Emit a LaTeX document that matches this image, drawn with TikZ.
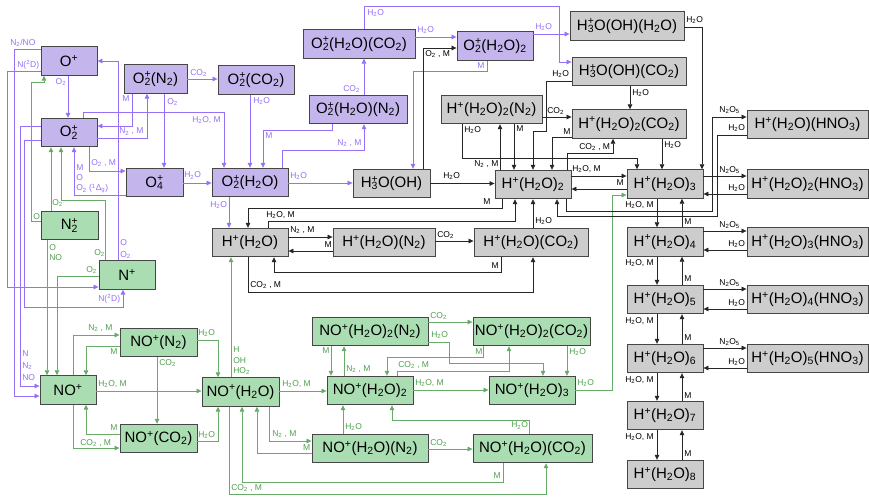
\documentclass[tikz,border=0pt]{standalone}
\usepackage{fontspec}
\setmainfont{Liberation Sans}
\usetikzlibrary{arrows.meta}
\definecolor{pfill}{RGB}{196,182,236}
\definecolor{pline}{RGB}{150,112,248}
\definecolor{gfill}{RGB}{170,222,178}
\definecolor{gline}{RGB}{104,170,104}
\definecolor{gtext}{RGB}{80,160,80}
\definecolor{kfill}{RGB}{205,205,205}
\definecolor{bord}{RGB}{70,70,70}
\newcommand\sbs[1]{\textsubscript{#1}}
\newcommand\spp[1]{\textsuperscript{#1}}
\newcommand\stk[2]{\rlap{\textsuperscript{#1}}\textsubscript{#2}}
\begin{document}
\begin{tikzpicture}[x=1pt,y=-1pt,
 box/.style={draw=bord,line width=0.9pt,minimum height=28.5pt,inner sep=0pt,font=\fontsize{15}{16}\selectfont},
 pbox/.style={box,fill=pfill}, gbox/.style={box,fill=kfill}, nbox/.style={box,fill=gfill},
 con/.style={line width=0.7pt,-{Triangle[length=5pt,width=4.5pt]}},
 pl/.style={con,draw=pline}, gl/.style={con,draw=gline}, bl/.style={con,draw=black!85},
 lab/.style={inner sep=0pt,anchor=west,font=\fontsize{8.5}{9}\selectfont},
 pt/.style={lab,text=pline}, gt/.style={lab,text=gtext}, bt/.style={lab,text=black},
]
\useasboundingbox (0,0) rectangle (869,496);
\fill[white] (0,0) rectangle (869,496);
% purple boxes
\node[pbox,minimum width=56pt] (Op) at (69,61) {O\spp{+}};
\node[pbox,minimum width=56pt] (O2p) at (69,132.5) {O\stk{+}{2}};
\node[pbox,minimum width=63pt] (O2N2) at (155.5,79) {O\stk{+}{2}(N\sbs{2})};
\node[pbox,minimum width=76pt] (O2CO2) at (256,80) {O\stk{+}{2}(CO\sbs{2})};
\node[pbox,minimum width=57pt] (O4) at (154.5,182.5) {O\stk{+}{4}};
\node[pbox,minimum width=76pt] (O2W) at (250,182.5) {O\stk{+}{2}(H\sbs{2}O)};
\node[pbox,minimum width=112pt] (O2WC) at (359,44) {O\stk{+}{2}(H\sbs{2}O)(CO\sbs{2})};
\node[pbox,minimum width=98pt] (O2WN) at (358,109.5) {O\stk{+}{2}(H\sbs{2}O)(N\sbs{2})};
\node[pbox,minimum width=76pt] (O2WW) at (495,46) {O\stk{+}{2}(H\sbs{2}O)\sbs{2}};
% gray boxes
\node[gbox,minimum width=114pt] (HOW) at (627,26) {H\stk{+}{3}O(OH)(H\sbs{2}O)};
\node[gbox,minimum width=114pt] (HOC) at (629,71.5) {H\stk{+}{3}O(OH)(CO\sbs{2})};
\node[gbox,minimum width=101pt] (H2N) at (491.5,109.5) {H\spp{+}(H\sbs{2}O)\sbs{2}(N\sbs{2})};
\node[gbox,minimum width=114pt] (H2C) at (629,124) {H\spp{+}(H\sbs{2}O)\sbs{2}(CO\sbs{2})};
\node[gbox,minimum width=77pt] (HO) at (391.5,183.5) {H\stk{+}{3}O(OH)};
\node[gbox,minimum width=76pt] (H2) at (533,184.5) {H\spp{+}(H\sbs{2}O)\sbs{2}};
\node[gbox,minimum width=76pt] (H1) at (250,242.5) {H\spp{+}(H\sbs{2}O)};
\node[gbox,minimum width=102pt] (H1N) at (384,242.5) {H\spp{+}(H\sbs{2}O)(N\sbs{2})};
\node[gbox,minimum width=114pt] (H1C) at (531,242.5) {H\spp{+}(H\sbs{2}O)(CO\sbs{2})};
\node[gbox,minimum width=76pt] (H3) at (665,184) {H\spp{+}(H\sbs{2}O)\sbs{3}};
\node[gbox,minimum width=76pt] (H4) at (665,242) {H\spp{+}(H\sbs{2}O)\sbs{4}};
\node[gbox,minimum width=76pt] (H5) at (665,299.5) {H\spp{+}(H\sbs{2}O)\sbs{5}};
\node[gbox,minimum width=76pt] (H6) at (665,358.5) {H\spp{+}(H\sbs{2}O)\sbs{6}};
\node[gbox,minimum width=76pt] (H7) at (665,415.5) {H\spp{+}(H\sbs{2}O)\sbs{7}};
\node[gbox,minimum width=76pt] (H8) at (665,474.5) {H\spp{+}(H\sbs{2}O)\sbs{8}};
\node[gbox,minimum width=121pt] (HN1) at (807.5,124.5) {H\spp{+}(H\sbs{2}O)(HNO\sbs{3})};
\node[gbox,minimum width=121pt] (HN2) at (807.5,184) {H\spp{+}(H\sbs{2}O)\sbs{2}(HNO\sbs{3})};
\node[gbox,minimum width=121pt] (HN3) at (807.5,242) {H\spp{+}(H\sbs{2}O)\sbs{3}(HNO\sbs{3})};
\node[gbox,minimum width=121pt] (HN4) at (807.5,299.5) {H\spp{+}(H\sbs{2}O)\sbs{4}(HNO\sbs{3})};
\node[gbox,minimum width=121pt] (HN5) at (807.5,358.5) {H\spp{+}(H\sbs{2}O)\sbs{5}(HNO\sbs{3})};
% green boxes
\node[nbox,minimum width=57pt] (N2p) at (69.5,225.5) {N\stk{+}{2}};
\node[nbox,minimum width=56pt] (Np) at (127,275) {N\spp{+}};
\node[nbox,minimum width=56pt] (NO) at (68,390) {NO\spp{+}};
\node[nbox,minimum width=77pt] (NON) at (158.5,342.5) {NO\spp{+}(N\sbs{2})};
\node[nbox,minimum width=77pt] (NOC) at (158.5,438.5) {NO\spp{+}(CO\sbs{2})};
\node[nbox,minimum width=77pt] (NO1) at (240.5,392) {NO\spp{+}(H\sbs{2}O)};
\node[nbox,minimum width=116pt] (NO2N) at (370,331.5) {NO\spp{+}(H\sbs{2}O)\sbs{2}(N\sbs{2})};
\node[nbox,minimum width=117pt] (NO2C) at (531.5,331.5) {NO\spp{+}(H\sbs{2}O)\sbs{2}(CO\sbs{2})};
\node[nbox,minimum width=86pt] (NO2) at (370,390.5) {NO\spp{+}(H\sbs{2}O)\sbs{2}};
\node[nbox,minimum width=86pt] (NO3) at (532,390.5) {NO\spp{+}(H\sbs{2}O)\sbs{3}};
\node[nbox,minimum width=116pt] (NO1N) at (370,448.5) {NO\spp{+}(H\sbs{2}O)(N\sbs{2})};
\node[nbox,minimum width=119pt] (NO1C) at (532.5,448.5) {NO\spp{+}(H\sbs{2}O)(CO\sbs{2})};
% purple connectors
\draw[pl] (Op.south-|68,0) -- (O2p.north-|68,0) node[pt,anchor=east] at (66.5,82) {O\sbs{2}};
\draw[pl] (Op.west|-0,49) -- (14,49) -- (14,396) -- (NO.west|-0,396) node[pt] at (10,43) {N\sbs{2}/NO};
\draw[pl] (Op.west|-0,71) -- (7,71) -- (7,287) -- (Np.west|-0,287) node[pt] at (17,65) {N(\spp{2}D)};
\draw[pl] (Np.north-|118,0) -- (118,61) -- (Op.east|-0,61) node[pt] at (120,243) {O} node[pt] at (120,255) {O\sbs{2}};
\draw[pl] (O2p.west|-0,126) -- (20,126) -- (20,386) -- (NO.west|-0,386) node[pt] at (22,354) {N} node[pt] at (22,366) {N\sbs{2}} node[pt] at (22,378) {NO};
\draw[pl] (O2p.west|-0,140) -- (24,140) -- (24,307) -- (123,307) -- (Np.south-|123,0) node[pt] at (98,299) {N(\spp{2}D)};
\draw[pl] (O2p.east|-0,138) -- (147,138) -- (O2N2.south-|147,0) node[pt] at (119,131.5) {N\sbs{2} , M};
\draw[pl] (O2N2.south-|132,0) -- (132,126) -- (O2p.east|-0,126) node[pt] at (122,99) {M};
\draw[pl] (O2N2.south-|164,0) -- (O4.north-|164,0) node[pt] at (167,102) {O\sbs{2}};
\draw[pl] (O2N2.east|-0,79) -- (O2CO2.west|-0,79) node[pt] at (190,73) {CO\sbs{2}};
\draw[pl] (O2p.south-|89,0) -- (89,171) -- (O4.west|-0,171) node[pt] at (91,163) {O\sbs{2} , M};
\draw[pl] (O4.west|-0,195) -- (74,195) -- (O2p.south-|74,0) node[pt] at (76,168) {M} node[pt] at (76,178) {O} node[pt] at (76,188.5) {O\sbs{2} (\spp{1}Δ\sbs{g})};
\draw[pl] (O4.east|-0,183) -- (O2W.west|-0,183) node[pt] at (184,175.5) {H\sbs{2}O};
\draw[pl] (O2p.north-|83,0) -- (83,112) -- (224,112) -- (O2W.north-|224,0) node[pt] at (192,120) {H\sbs{2}O, M};
\draw[pl] (O2CO2.south-|250,0) -- (O2W.north-|250,0) node[pt] at (253,101) {H\sbs{2}O};
\draw[pl] (O2WN.south-|332,0) -- (332,130) -- (263,130) -- (O2W.north-|263,0) node[pt] at (265,136) {M};
\draw[pl] (O2W.north-|282,0) -- (282,150) -- (364,150) -- (O2WN.south-|364,0) node[pt] at (337,143) {N\sbs{2} , M};
\draw[pl] (O2WN.north-|364,0) -- (O2WC.south-|364,0) node[pt] at (343,89) {CO\sbs{2}};
\draw[pl] (O2WC.east|-0,37) -- (O2WW.west|-0,37) node[pt] at (417,30) {H\sbs{2}O};
\draw[pl] (O2WC.north-|364,0) -- (364,6) -- (559,6) -- (559,62) -- (HOC.west|-0,62) node[pt] at (367,13) {H\sbs{2}O};
\draw[pl] (O2WW.east|-0,34) -- (HOW.west|-0,34) node[pt] at (535,27) {H\sbs{2}O};
\draw[pl] (O2WW.south-|487,0) -- (487,71) -- (413,71) -- (HO.north-|413,0) node[pt] at (477,66) {M};
\draw[pl] (O2W.east|-0,183) -- (HO.west|-0,183) node[pt] at (290,176) {H\sbs{2}O};
\draw[pl] (O2W.south-|229,0) -- (H1.north-|229,0) node[pt] at (210,205) {H\sbs{2}O};
% green connectors
\draw[gl] (N2p.north-|51,0) -- (O2p.south-|51,0) node[gt] at (52,203) {O\sbs{2}};
\draw[gl] (Np.north-|105,0) -- (105,200) -- (61,200) -- (O2p.south-|61,0) node[gt] at (94,253) {O\sbs{2}};
\draw[gl] (N2p.west|-0,221) -- (31,221) -- (31,82) -- (44,82) -- (Op.south-|44,0) node[gt] at (33,216.5) {O};
\draw[gl] (N2p.south-|47,0) -- (NO.north-|47,0) node[gt] at (49,248) {O} node[gt] at (49,258) {NO};
\draw[gl] (Np.west|-0,276) -- (57,276) -- (NO.north-|57,0) node[gt] at (86,270) {O\sbs{2}};
\draw[gl] (NO.north-|73,0) -- (73,335) -- (NON.west|-0,335) node[gt] at (88,328) {N\sbs{2} , M};
\draw[gl] (NON.west|-0,346) -- (86,346) -- (NO.north-|86,0) node[gt] at (110,352) {M};
\draw[gl] (NON.south-|157,0) -- (NOC.north-|157,0) node[gt] at (159,363) {CO\sbs{2}};
\draw[gl] (NON.east|-0,340) -- (218,340) -- (NO1.north-|218,0) node[gt] at (198,333) {H\sbs{2}O};
\draw[gl] (NO.east|-0,391) -- (NO1.west|-0,391) node[gt] at (98,384) {H\sbs{2}O, M};
\draw[gl] (NO.south-|73,0) -- (73,448) -- (NOC.west|-0,448) node[gt] at (80,443) {CO\sbs{2} , M};
\draw[gl] (NOC.west|-0,434) -- (86,434) -- (NO.south-|86,0) node[gt] at (110,428) {M};
\draw[gl] (NOC.east|-0,441) -- (218,441) -- (NO1.south-|218,0) node[gt] at (198,435) {H\sbs{2}O};
\draw[gl] (NO1.north-|231,0) -- (H1.south-|231,0) node[gt] at (233,350) {H} node[gt] at (233,361) {OH} node[gt] at (233,371) {HO\sbs{2}};
\draw[gl] (NO1.south-|269,0) -- (269,441) -- (NO1N.west|-0,441) node[gt] at (272,434) {N\sbs{2} , M};
\draw[gl] (NO1N.west|-0,453) -- (257,453) -- (NO1.south-|257,0) node[gt,anchor=east] at (310.5,447.5) {M};
\draw[gl] (NO1.south-|229,0) -- (229,494) -- (546,494) -- (NO1C.south-|546,0) node[gt] at (231,488) {CO\sbs{2} , M};
\draw[gl] (NO1C.south-|503,0) -- (503,482) -- (242,482) -- (NO1.south-|242,0) node[gt,anchor=east] at (501,476) {M};
\draw[gl] (NO1.east|-0,391) -- (NO2.west|-0,391) node[gt] at (282,384) {H\sbs{2}O, M};
\draw[gl] (NO1N.north-|343,0) -- (NO2.south-|343,0) node[gt] at (345,427) {H\sbs{2}O};
\draw[gl] (NO1N.east|-0,449) -- (NO1C.west|-0,449) node[gt] at (430,443) {CO\sbs{2}};
\draw[gl] (NO1C.north-|529,0) -- (529,420) -- (392,420) -- (NO2.south-|392,0) node[gt] at (511,425.5) {H\sbs{2}O};
\draw[gl] (NO2N.south-|331,0) -- (NO2.north-|331,0) node[gt] at (322,351) {M};
\draw[gl] (NO2.north-|344,0) -- (NO2N.south-|344,0) node[gt] at (346,369) {N\sbs{2} , M};
\draw[gl] (NO2N.east|-0,322) -- (NO2C.west|-0,322) node[gt] at (430,316) {CO\sbs{2}};
\draw[gl] (NO2N.east|-0,342) -- (449,342) -- (449,363) -- (543,363) -- (NO3.north-|543,0) node[gt] at (431,335) {H\sbs{2}O};
\draw[gl] (NO2C.south-|483,0) -- (483,357) -- (387,357) -- (NO2.north-|387,0) node[gt] at (475,351.5) {M};
\draw[gl] (NO2.north-|397,0) -- (397,371) -- (509,371) -- (NO2C.south-|509,0) node[gt] at (398,365) {CO\sbs{2} , M};
\draw[gl] (NO2C.south-|567,0) -- (NO3.north-|567,0) node[gt] at (569,352) {H\sbs{2}O};
\draw[gl] (NO2.east|-0,390) -- (NO3.west|-0,390) node[gt] at (415,383) {H\sbs{2}O, M};
\draw[gl] (NO3.east|-0,390) -- (612,390) -- (612,195) -- (H3.west|-0,195) node[gt] at (577,383) {H\sbs{2}O};
% black connectors
\draw[bl] (HO.east|-0,183.5) -- (H2.west|-0,183.5) node[bt] at (443,176) {H\sbs{2}O};
\draw[bl] (HO.north-|423,0) -- (423,48) -- (O2WW.west|-0,48) node[bt] at (425,54) {O\sbs{2} , M};
\draw[bl] (HOW.east|-0,27) -- (702,27) -- (H3.north-|702,0) node[bt] at (686,20) {H\sbs{2}O};
\draw[bl] (HOC.south-|630,0) -- (H2C.north-|630,0) node[bt] at (632,93) {H\sbs{2}O};
\draw[bl] (HOC.west|-0,81) -- (546,81) -- (546,131) -- (533,131) -- (H2.north-|533,0) node[bt] at (552,74) {H\sbs{2}O};
\draw[bl] (H2N.south-|514,0) -- (H2.north-|514,0) node[bt] at (516,129) {M};
\draw[bl] (H2.north-|500,0) -- (H2N.south-|500,0) node[bt] at (474,164) {N\sbs{2} , M};
\draw[bl] (H2N.south-|462,0) -- (462,158) -- (637,158) -- (H3.north-|637,0) node[bt] at (464,130) {H\sbs{2}O};
\draw[bl] (H2N.east|-0,117) -- (H2C.west|-0,117) node[bt] at (547,111) {CO\sbs{2}};
\draw[bl] (H2C.west|-0,137) -- (552,137) -- (H2.north-|552,0) node[bt] at (563,132) {M};
\draw[bl] (H2.north-|567,0) -- (567,153) -- (613,153) -- (H2C.south-|613,0) node[bt] at (579,147) {CO\sbs{2} , M};
\draw[bl] (H2C.south-|662,0) -- (H3.north-|662,0) node[bt] at (664,145) {H\sbs{2}O};
\draw[bl] (H2.east|-0,176) -- (H3.west|-0,176) node[bt] at (572,169) {H\sbs{2}O, M};
\draw[bl] (H3.west|-0,189) -- (H2.east|-0,189) node[bt,anchor=east] at (624,183) {M};
\draw[bl] (H2.south-|502,0) -- (502,208) -- (248,208) -- (H1.north-|248,0) node[bt] at (483,202) {M};
\draw[bl] (H1.north-|268,0) -- (268,221) -- (515,221) -- (H2.south-|515,0) node[bt] at (266,215) {H\sbs{2}O, M};
\draw[bl] (H1.east|-0,237) -- (H1N.west|-0,237) node[bt] at (290,230) {N\sbs{2} , M};
\draw[bl] (H1N.west|-0,251) -- (H1.east|-0,251) node[bt,anchor=east] at (332,245) {M};
\draw[bl] (H1N.east|-0,241) -- (H1C.west|-0,241) node[bt] at (437,235) {CO\sbs{2}};
\draw[bl] (H1C.north-|533,0) -- (H2.south-|533,0) node[bt] at (535,221) {H\sbs{2}O};
\draw[bl] (H1C.south-|501,0) -- (501,272) -- (274,272) -- (H1.south-|274,0) node[bt,anchor=east] at (499,266) {M};
\draw[bl] (H1.south-|248,0) -- (248,292) -- (533,292) -- (H1C.south-|533,0) node[bt] at (250,285) {CO\sbs{2} , M};
\draw[bl] (H2.south-|566,0) -- (566,211) -- (712,211) -- (712,117) -- (HN1.west|-0,117) node[bt] at (719,110) {N\sbs{2}O\sbs{5}};
\draw[bl] (HN1.west|-0,135) -- (717,135) -- (717,216) -- (557,216) -- (H2.south-|557,0) node[bt] at (728,128) {H\sbs{2}O};
% HNO3 side branches
\draw[bl] (H3.east|-0,176) -- (HN2.west|-0,176) node[bt] at (719,170) {N\sbs{2}O\sbs{5}};
\draw[bl] (HN2.west|-0,194) -- (H3.east|-0,194) node[bt] at (728,188) {H\sbs{2}O};
\draw[bl] (H4.east|-0,231) -- (HN3.west|-0,231) node[bt] at (719,225) {N\sbs{2}O\sbs{5}};
\draw[bl] (HN3.west|-0,250) -- (H4.east|-0,250) node[bt] at (728,244) {H\sbs{2}O};
\draw[bl] (H5.east|-0,289) -- (HN4.west|-0,289) node[bt] at (719,283) {N\sbs{2}O\sbs{5}};
\draw[bl] (HN4.west|-0,309) -- (H5.east|-0,309) node[bt] at (728,303) {H\sbs{2}O};
\draw[bl] (H6.east|-0,348) -- (HN5.west|-0,348) node[bt] at (719,342) {N\sbs{2}O\sbs{5}};
\draw[bl] (HN5.west|-0,368) -- (H6.east|-0,368) node[bt] at (728,362) {H\sbs{2}O};
% vertical chain
\draw[bl] (H3.south-|657,0) -- (H4.north-|657,0) node[bt] at (625,205) {H\sbs{2}O, M};
\draw[bl] (H4.north-|682,0) -- (H3.south-|682,0) node[bt] at (684,222) {M};
\draw[bl] (H4.south-|657,0) -- (H5.north-|657,0) node[bt] at (625,263) {H\sbs{2}O, M};
\draw[bl] (H5.north-|682,0) -- (H4.south-|682,0) node[bt] at (684,279) {M};
\draw[bl] (H5.south-|657,0) -- (H6.north-|657,0) node[bt] at (625,321) {H\sbs{2}O, M};
\draw[bl] (H6.north-|682,0) -- (H5.south-|682,0) node[bt] at (684,338) {M};
\draw[bl] (H6.south-|657,0) -- (H7.north-|657,0) node[bt] at (625,380) {H\sbs{2}O, M};
\draw[bl] (H7.north-|682,0) -- (H6.south-|682,0) node[bt] at (684,396) {M};
\draw[bl] (H7.south-|657,0) -- (H8.north-|657,0) node[bt] at (625,437) {H\sbs{2}O, M};
\draw[bl] (H8.north-|682,0) -- (H7.south-|682,0) node[bt] at (684,454) {M};
\end{tikzpicture}
\end{document}
